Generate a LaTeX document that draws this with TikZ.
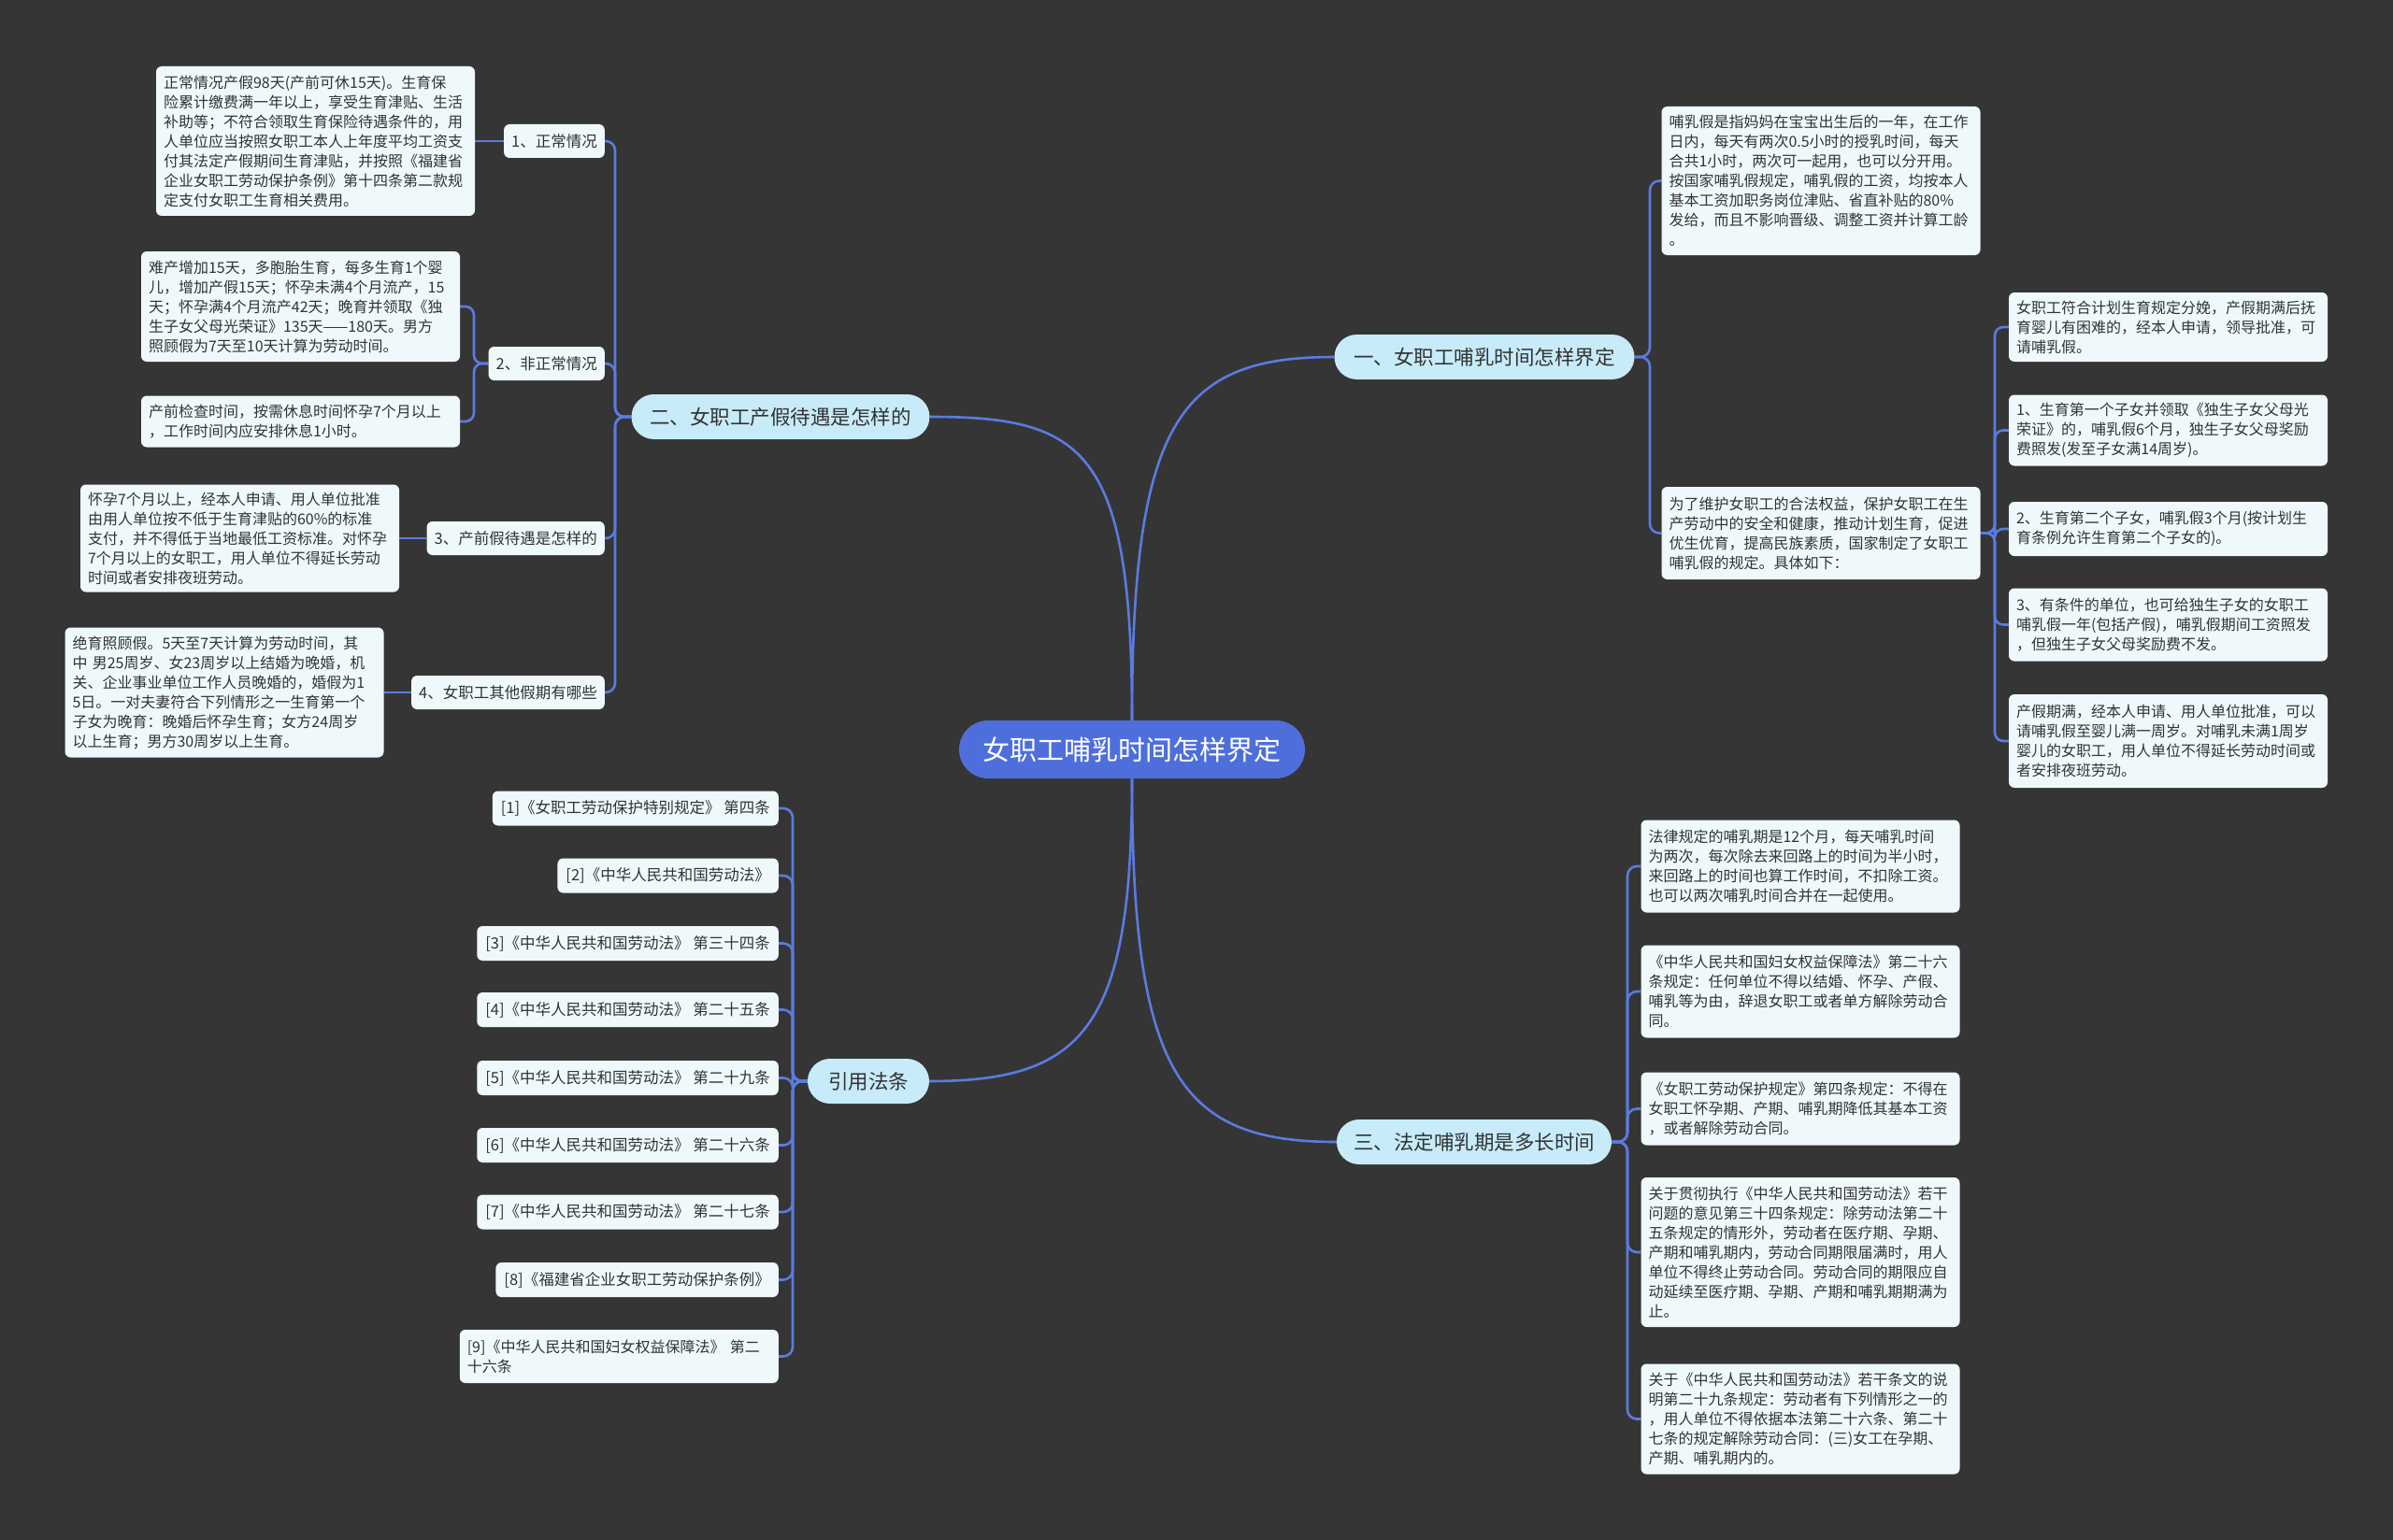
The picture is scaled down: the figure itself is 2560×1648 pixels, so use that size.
\documentclass[tikz,border=0pt]{standalone}
\usepackage{fontspec}
\setmainfont{Noto Sans CJK SC}
\pgfdeclarelayer{bg}
\pgfsetlayers{bg,main}
\definecolor{bgc}{HTML}{353535}
\definecolor{linec}{HTML}{5B7BE0}
\definecolor{centerc}{HTML}{4E6FDB}
\definecolor{brc}{HTML}{C7EBF9}
\definecolor{leafc}{HTML}{EFF9FC}
\definecolor{txt}{HTML}{333333}
\begin{document}
\begin{tikzpicture}[x=1pt,y=-1pt,
  conn/.style={draw=linec, line width=2.6pt},
  leaf/.style={fill=leafc, text=txt, rounded corners=6pt, align=left, text width=325pt, inner xsep=8pt, inner ysep=0pt, font=\fontsize{16}{21}\selectfont},
  subn/.style={fill=leafc, text=txt, rounded corners=6pt, inner xsep=8pt, inner ysep=0pt, minimum height=36pt, font=\fontsize{16.5}{21}\selectfont},
  refn/.style={fill=leafc, text=txt, rounded corners=6pt, inner xsep=9pt, inner ysep=0pt, minimum height=37pt, anchor=east, font=\fontsize{16.5}{21}\selectfont},
  brn/.style={fill=brc, text=txt, rounded corners=24pt, minimum height=48pt, inner xsep=0pt, font=\fontsize{21.5}{26}\selectfont},
]
\useasboundingbox (0,0) rectangle (2560,1648);

% centre
\node[fill=centerc, text=white, rounded corners=31pt, minimum width=370pt, minimum height=62pt, inner sep=0pt, font=\fontsize{29}{34}\selectfont] (c) at (1211,802) {女职工哺乳时间怎样界定};

% main branches
\node[brn, minimum width=321pt] (b1) at (1588,382) {一、女职工哺乳时间怎样界定};
\node[brn, minimum width=319pt] (b2) at (835,446) {二、女职工产假待遇是怎样的};
\node[brn, minimum width=294pt] (b3) at (1577,1222) {三、法定哺乳期是多长时间};
\node[brn, minimum width=130pt] (b4) at (929,1157) {引用法条};

% branch 二 sub nodes
\node[subn, anchor=east] (s1) at (647,151) {1、正常情况};
\node[subn, anchor=east] (s2) at (647,389) {2、非正常情况};
\node[subn, anchor=east] (s3) at (647,576) {3、产前假待遇是怎样的};
\node[subn, anchor=east] (s4) at (647,741) {4、女职工其他假期有哪些};

\node[leaf, minimum height=160pt] (n1) at (337.5,151) {正常情况产假98天(产前可休15天)。生育保\\险累计缴费满一年以上，享受生育津贴、生活\\补助等；不符合领取生育保险待遇条件的，用\\人单位应当按照女职工本人上年度平均工资支\\付其法定产假期间生育津贴，并按照《福建省\\企业女职工劳动保护条例》第十四条第二款规\\定支付女职工生育相关费用。};
\node[leaf, minimum height=118pt] (n2a) at (321.5,328) {难产增加15天，多胞胎生育，每多生育1个婴\\儿，增加产假15天；怀孕未满4个月流产，15\\天；怀孕满4个月流产42天；晚育并领取《独\\\mbox{生子女父母光荣证》135天——180天。男方}\\照顾假为7天至10天计算为劳动时间。};
\node[leaf, minimum height=55pt] (n2b) at (321.5,451) {产前检查时间，按需休息时间怀孕7个月以上\\，工作时间内应安排休息1小时。};
\node[leaf, minimum height=115pt] (n3) at (256.5,576) {怀孕7个月以上，经本人申请、用人单位批准\\由用人单位按不低于生育津贴的60\%的标准\\支付，并不得低于当地最低工资标准。对怀孕\\7个月以上的女职工，用人单位不得延长劳动\\时间或者安排夜班劳动。};
\node[leaf, minimum height=139pt] (n4) at (240,741) {绝育照顾假。5天至7天计算为劳动时间，其\\中~男25周岁、女23周岁以上结婚为晚婚，机\\关、企业事业单位工作人员晚婚的，婚假为1\\5日。一对夫妻符合下列情形之一生育第一个\\子女为晚育：晚婚后怀孕生育；女方24周岁\\以上生育；男方30周岁以上生育。};

% branch 一
\node[leaf, minimum height=159pt] (a1) at (1948,193.5) {哺乳假是指妈妈在宝宝出生后的一年，在工作\\日内，每天有两次0.5小时的授乳时间，每天\\合共1小时，两次可一起用，也可以分开用。\\按国家哺乳假规定，哺乳假的工资，均按本人\\基本工资加职务岗位津贴、省直补贴的80\%\\发给，而且不影响晋级、调整工资并计算工龄\\。};
\node[leaf, minimum height=99pt] (a2) at (1948,570.5) {为了维护女职工的合法权益，保护女职工在生\\产劳动中的安全和健康，推动计划生育，促进\\优生优育，提高民族素质，国家制定了女职工\\哺乳假的规定。具体如下：};
\node[leaf, minimum height=74pt] (r1) at (2319.5,350) {女职工符合计划生育规定分娩，产假期满后抚\\育婴儿有困难的，经本人申请，领导批准，可\\请哺乳假。};
\node[leaf, minimum height=76pt] (r2) at (2319.5,460.5) {1、生育第一个子女并领取《独生子女父母光\\荣证》的，哺乳假6个月，独生子女父母奖励\\费照发(发至子女满14周岁)。};
\node[leaf, minimum height=58pt] (r3) at (2319.5,566) {2、生育第二个子女，哺乳假3个月(按计划生\\育条例允许生育第二个子女的)。};
\node[leaf, minimum height=78pt] (r4) at (2319.5,668.5) {3、有条件的单位，也可给独生子女的女职工\\哺乳假一年(包括产假)，哺乳假期间工资照发\\，但独生子女父母奖励费不发。};
\node[leaf, minimum height=100pt] (r5) at (2319.5,793) {产假期满，经本人申请、用人单位批准，可以\\请哺乳假至婴儿满一周岁。对哺乳未满1周岁\\婴儿的女职工，用人单位不得延长劳动时间或\\者安排夜班劳动。};

% branch 三
\node[leaf, minimum height=99pt] (t1) at (1926,927) {法律规定的哺乳期是12个月，每天哺乳时间\\为两次，每次除去来回路上的时间为半小时，\\来回路上的时间也算工作时间，不扣除工资。\\也可以两次哺乳时间合并在一起使用。};
\node[leaf, minimum height=99pt] (t2) at (1926,1061) {《中华人民共和国妇女权益保障法》第二十六\\条规定：任何单位不得以结婚、怀孕、产假、\\哺乳等为由，辞退女职工或者单方解除劳动合\\同。};
\node[leaf, minimum height=78pt] (t3) at (1926,1186.5) {《女职工劳动保护规定》第四条规定：不得在\\女职工怀孕期、产期、哺乳期降低其基本工资\\，或者解除劳动合同。};
\node[leaf, minimum height=160pt] (t4) at (1926,1340) {关于贯彻执行《中华人民共和国劳动法》若干\\问题的意见第三十四条规定：除劳动法第二十\\五条规定的情形外，劳动者在医疗期、孕期、\\产期和哺乳期内，劳动合同期限届满时，用人\\单位不得终止劳动合同。劳动合同的期限应自\\动延续至医疗期、孕期、产期和哺乳期期满为\\止。};
\node[leaf, minimum height=118pt] (t5) at (1926,1518.5) {关于《中华人民共和国劳动法》若干条文的说\\明第二十九条规定：劳动者有下列情形之一的\\，用人单位不得依据本法第二十六条、第二十\\七条的规定解除劳动合同：(三)女工在孕期、\\产期、哺乳期内的。};

% references
\node[refn] (f1) at (833,865) {[1]《女职工劳动保护特别规定》 第四条};
\node[refn] (f2) at (833,937) {[2]《中华人民共和国劳动法》};
\node[refn] (f3) at (833,1009.5) {[3]《中华人民共和国劳动法》 第三十四条};
\node[refn] (f4) at (833,1080.5) {[4]《中华人民共和国劳动法》 第二十五条};
\node[refn] (f5) at (833,1153.5) {[5]《中华人民共和国劳动法》 第二十九条};
\node[refn] (f6) at (833,1225.5) {[6]《中华人民共和国劳动法》 第二十六条};
\node[refn] (f7) at (833,1297) {[7]《中华人民共和国劳动法》 第二十七条};
\node[refn] (f8) at (833,1369.5) {[8]《福建省企业女职工劳动保护条例》};
\node[refn, align=left, text width=325pt, inner xsep=8pt, minimum height=57pt, font=\fontsize{16}{21}\selectfont] (f9) at (833,1451.5) {[9]《中华人民共和国妇女权益保障法》~第二\\十六条};

\begin{pgfonlayer}{bg}
\fill[bgc] (0,0) rectangle (2560,1648);
% centre to branches
\draw[conn] (c.north) .. controls (1211,450) and (1262,382) .. (b1.west);
\draw[conn] (c.north) .. controls (1211,480) and (1160,446) .. (b2.east);
\draw[conn] (c.south) .. controls (1211,1150) and (1262,1222) .. (b3.west);
\draw[conn] (c.south) .. controls (1211,1100) and (1160,1157) .. (b4.east);
% branch 二
\foreach \n in {s1,s2,s3,s4} {\draw[conn, rounded corners=10pt] (b2.west) -- (658,446) |- (\n.east);}
\draw[conn] (s1.west) -- (s1.west -| n1.east);
\draw[conn, rounded corners=9pt] (s2.west) -- (507,389) |- (n2a.east);
\draw[conn, rounded corners=9pt] (s2.west) -- (507,389) |- (n2b.east);
\draw[conn] (s3.west) -- (s3.west -| n3.east);
\draw[conn] (s4.west) -- (s4.west -| n4.east);
% branch 一
\foreach \n in {a1,a2} {\draw[conn, rounded corners=10pt] (b1.east) -- (1765,382) |- (\n.west);}
\foreach \n in {r1,r2,r3,r4,r5} {\draw[conn, rounded corners=9pt] (a2.east) -- (2134,570.5) |- (\n.west);}
% branch 三
\foreach \n in {t1,t2,t3,t4,t5} {\draw[conn, rounded corners=10pt] (b3.east) -- (1741,1222) |- (\n.west);}
% references
\foreach \n in {f1,f2,f3,f4,f5,f6,f7,f8,f9} {\draw[conn, rounded corners=10pt] (b4.west) -- (848,1157) |- (\n.east);}
\end{pgfonlayer}
\end{tikzpicture}
\end{document}
